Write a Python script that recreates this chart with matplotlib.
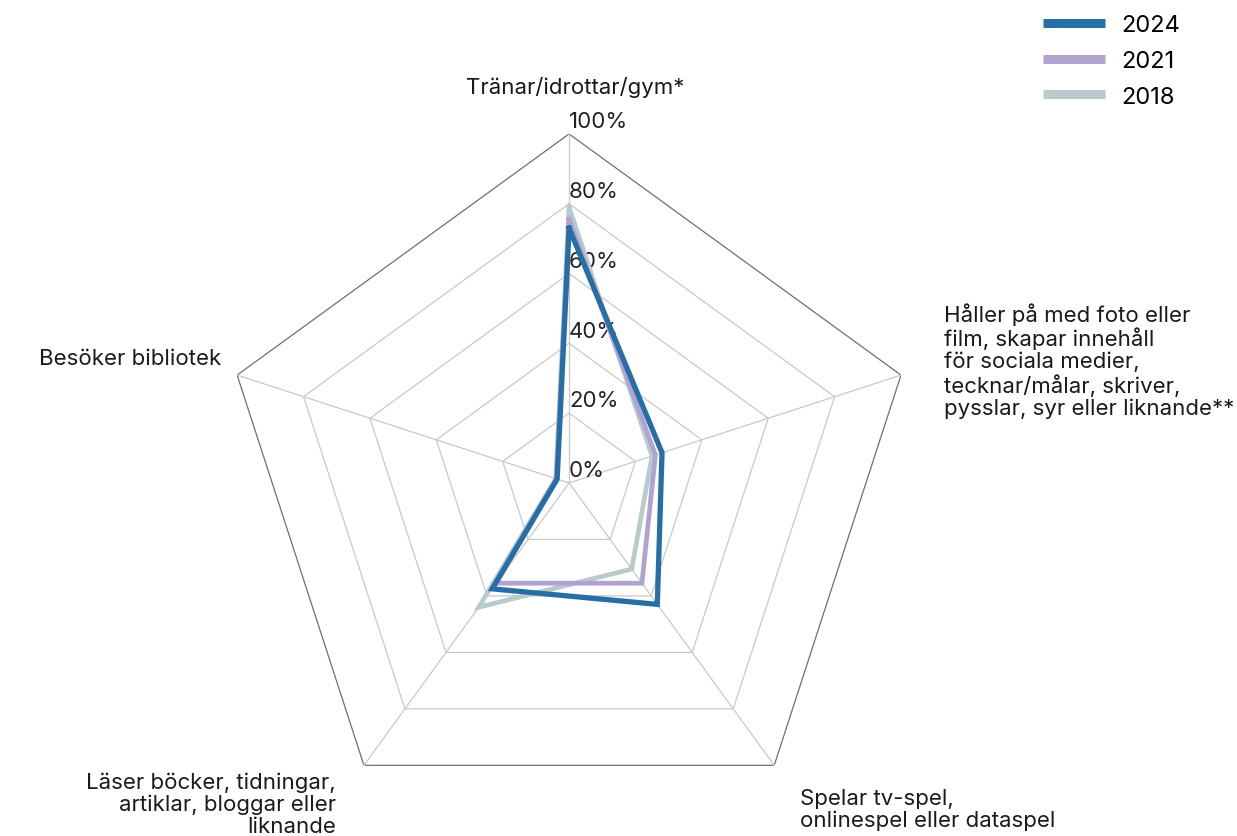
"""Radardiagram: fritidsaktiviteter 2018, 2021 och 2024."""

import numpy as np
import matplotlib.pyplot as plt

plt.rcParams["font.family"] = ["Inter", "DejaVu Sans"]

categories = [
    "Tränar/idrottar/gym*",
    "Håller på med foto eller\nfilm, skapar innehåll\nför sociala medier,\ntecknar/målar, skriver,\npysslar, syr eller liknande**",
    "Spelar tv-spel,\nonlinespel eller dataspel",
    "Läser böcker, tidningar,\nartiklar, bloggar eller\nliknande",
    "Besöker bibliotek",
]

years = ["2024", "2021", "2018"]
values_2024 = [73, 28, 43, 37.5, 3.6]
values_2021 = [75.5, 26, 35.5, 35.5, 3.8]
values_2018 = [79, 25, 30.5, 44, 4]

ring_levels = [0, 20, 40, 60, 80, 100]
ring_labels = ["0%", "20%", "40%", "60%", "80%", "100%"]

colors = {"2024": "#276da6", "2021": "#b0a3d2", "2018": "#b9cacd"}
widths = {"2024": 3.8, "2021": 3.4, "2018": 3.4}

n = len(categories)
angles = np.linspace(0, 2 * np.pi, n, endpoint=False)
closed_angles = np.append(angles, angles[0])

fig = plt.figure(figsize=(12.37, 8.37), dpi=100)
ax = fig.add_axes([0.1779, 0.0048, 0.5643, 0.834], polar=True)
ax.set_theta_offset(np.pi / 2)
ax.set_theta_direction(-1)
ax.set_ylim(0, 100)
ax.grid(False)
ax.spines["polar"].set_visible(False)
ax.set_xticks([])
ax.set_yticks([])
ax.patch.set_alpha(0)

# Femhörniga rutnätslinjer.
for level in ring_levels[1:]:
    ax.plot(
        closed_angles,
        [level] * (n + 1),
        color="#6f6f6f" if level == 100 else "#c9c9c9",
        linewidth=0.9,
        zorder=1,
    )

# Ekrar från centrum.
for angle in angles:
    ax.plot([angle, angle], [0, 100], color="#c9c9c9", linewidth=0.9, zorder=1)

# Procentetiketter längs den övre ekern.
for level, label in zip(ring_levels, ring_labels):
    ax.annotate(
        label,
        xy=(0, level),
        xytext=(0, 2),
        textcoords="offset points",
        ha="left",
        va="bottom",
        fontsize=16,
        color="#222222",
        zorder=2,
    )

# Dataserier, äldst underst.
series = {"2024": values_2024, "2021": values_2021, "2018": values_2018}
for zorder, year in zip([5, 4, 3], years):
    vals = series[year]
    ax.plot(
        closed_angles,
        vals + vals[:1],
        color=colors[year],
        linewidth=widths[year],
        solid_joinstyle="miter",
        zorder=zorder,
        label=year,
    )

# Kategorietiketter.
label_style = [
    dict(xytext=(6, 37), ha="center", va="bottom"),
    dict(xytext=(43, 15), ha="left", va="center"),
    dict(xytext=(26, -23), ha="left", va="top"),
    dict(xytext=(-28, -6), ha="right", va="top"),
    dict(xytext=(-16, 17), ha="right", va="center"),
]
for angle, text, style in zip(angles, categories, label_style):
    ax.annotate(
        text,
        xy=(angle, 100),
        textcoords="offset pixels",
        fontsize=16,
        color="#1a1a1a",
        linespacing=1.1,
        annotation_clip=False,
        **style,
    )

handles, labels = ax.get_legend_handles_labels()
fig.legend(
    handles,
    labels,
    loc="upper left",
    bbox_to_anchor=(1022 / 1237, 1.0 + 6 / 837),
    frameon=False,
    fontsize=17,
    handlelength=2.6,
    handletextpad=0.72,
    labelspacing=0.58,
)
for line in fig.legends[0].get_lines():
    line.set_linewidth(6.5)
    line.set_solid_capstyle("butt")

fig.savefig("out.png", dpi=100)
